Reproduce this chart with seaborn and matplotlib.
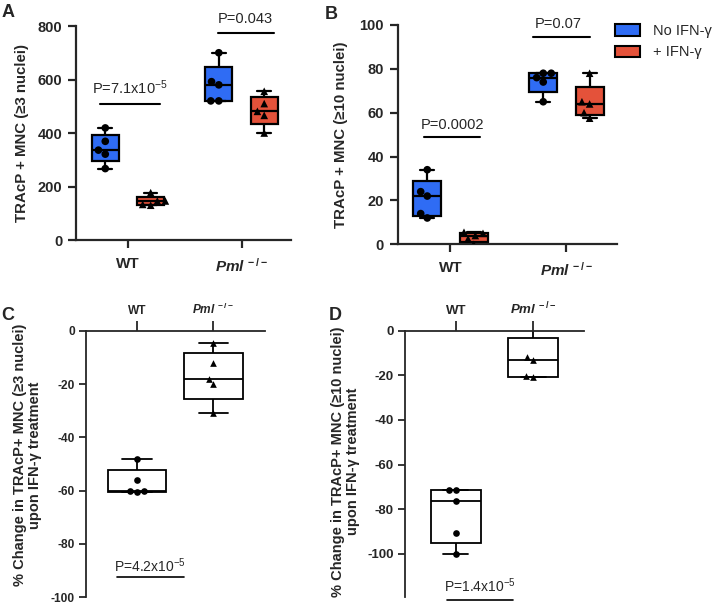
import numpy as np
import pandas as pd
import matplotlib
matplotlib.use("Agg")
import matplotlib as mpl
import matplotlib.pyplot as plt
import seaborn as sns
from matplotlib.patches import Patch

# ---------------- data ----------------
genotypes = ["WT", "Pml-/-"]
treatments = ["No IFN-γ", "+ IFN-γ"]
geno_labels = ["WT", r"$\mathit{Pml}^{\,-/-}$"]

# Panel A: TRAcP+ MNC (>=3 nuclei)
a_wt_no = [267, 321, 336, 369, 419]
a_wt_ifn = [130, 133, 146, 146, 177]
a_pml_no = [520, 520, 580, 592, 700]
a_pml_ifn = [400, 466, 481, 510, 556]
a_yticks = [0, 200, 400, 600, 800]

# Panel B: TRAcP+ MNC (>=10 nuclei)
b_wt_no = [12, 14, 22, 24, 34]
b_wt_ifn = [0, 2.5, 4, 5, 5.5]
b_pml_no = [65, 74, 76, 78, 78]
b_pml_ifn = [57.5, 60, 64, 65, 78]
b_yticks = [0, 20, 40, 60, 80, 100]

# Panel C: % change (>=3 nuclei)
c_wt = [-60.5, -60.3, -60, -56, -48.2]
c_pml = [-31, -20, -18, -12, -4.5]
c_yticks = [0, -20, -40, -60, -80, -100]

# Panel D: % change (>=10 nuclei)
d_wt = [-100, -90.5, -76.3, -71.5, -71.5]
d_pml = [-20.8, -20.3, -13, -11.6, 4.8]
d_yticks = [0, -20, -40, -60, -80, -100]

p_a = ["P=7.1x10$^{-5}$", "P=0.043"]
p_b = ["P=0.0002", "P=0.07"]
p_c = "P=4.2x10$^{-5}$"
p_d = "P=1.4x10$^{-5}$"

blue = "#2f6cf4"
red = "#e4523a"

# ---------------- GraphPad-style quartiles ----------------
_orig_stats = mpl.cbook.boxplot_stats
def _prism_stats(X, *args, **kwargs):
    out = _orig_stats(X, *args, **kwargs)
    if isinstance(X, (list, tuple)):
        series = [np.asarray(x, dtype=float) for x in X]
    else:
        arr = np.asarray(X, dtype=float)
        series = [arr] if arr.ndim == 1 else [arr[:, i] for i in range(arr.shape[1])]
    for s, x in zip(out, series):
        x = x[np.isfinite(x)]
        if len(x) > 0:
            q1, q3 = np.percentile(x, [25, 75], method="weibull")
            s["q1"], s["q3"] = q1, q3
            s["iqr"] = q3 - q1
    return out
mpl.cbook.boxplot_stats = _prism_stats

# ---------------- style ----------------
sns.set_style("ticks")
plt.rcParams["font.family"] = ["Liberation Sans", "DejaVu Sans"]
plt.rcParams["mathtext.fontset"] = "custom"
plt.rcParams["mathtext.it"] = "Liberation Sans:italic:bold"
plt.rcParams["mathtext.rm"] = "Liberation Sans"
plt.rcParams["mathtext.bf"] = "Liberation Sans:bold"
plt.rcParams["mathtext.default"] = "regular"
plt.rcParams["axes.unicode_minus"] = False

def long_df(groups):
    rows = []
    for (g, t), vals in groups.items():
        for v in vals:
            rows.append({"genotype": g, "treatment": t, "value": v})
    return pd.DataFrame(rows)

dfA = long_df({(genotypes[0], treatments[0]): a_wt_no, (genotypes[0], treatments[1]): a_wt_ifn,
               (genotypes[1], treatments[0]): a_pml_no, (genotypes[1], treatments[1]): a_pml_ifn})
dfB = long_df({(genotypes[0], treatments[0]): b_wt_no, (genotypes[0], treatments[1]): b_wt_ifn,
               (genotypes[1], treatments[0]): b_pml_no, (genotypes[1], treatments[1]): b_pml_ifn})
dfC = long_df({(genotypes[0], "chg"): c_wt, (genotypes[1], "chg"): c_pml})
dfD = long_df({(genotypes[0], "chg"): d_wt, (genotypes[1], "chg"): d_pml})

fig = plt.figure(figsize=(7.18, 6.05), dpi=100)
axA = fig.add_axes([0.1063, 0.6033, 0.2990, 0.3537])
axB = fig.add_axes([0.5539, 0.5962, 0.3054, 0.3625])
axC = fig.add_axes([0.1198, 0.0132, 0.2493, 0.4397])
axD = fig.add_axes([0.5641, 0.0127, 0.2493, 0.4407])

pal = {treatments[0]: blue, treatments[1]: red}
markers = {treatments[0]: "o", treatments[1]: "^"}

def grouped_panel(ax, df, yticks, ylim, ylabel, pvals, sig, label_x):
    sns.boxplot(data=df, x="genotype", y="value", hue="treatment", order=genotypes,
                hue_order=treatments, palette=pal, saturation=1, whis=(0, 100),
                showfliers=False, width=0.8, gap=0.4, linewidth=1.6, linecolor="black",
                legend=False, ax=ax)
    for t in treatments:
        sub = df[df["treatment"] == t]
        sns.swarmplot(data=sub, x="genotype", y="value", hue="treatment", order=genotypes,
                      hue_order=treatments, palette={k: "black" for k in treatments},
                      dodge=True, marker=markers[t], size=5.5, legend=False, ax=ax, zorder=5)
    ax.set_ylim(*ylim)
    ax.set_xlim(-0.455, 1.436)
    ax.set_yticks(yticks)
    ax.set_xticks([0, 1], labels=geno_labels)
    ax.set_xlabel("")
    ax.set_ylabel(ylabel, fontsize=10.8, fontweight="bold")
    ax.yaxis.set_label_coords(label_x, 0.5)
    sns.despine(ax=ax)
    for s in ["left", "bottom"]:
        ax.spines[s].set_linewidth(1.6)
    ax.tick_params(axis="both", width=1.6, length=6)
    ax.tick_params(axis="y", labelsize=10.5, pad=4)
    ax.tick_params(axis="x", labelsize=11, pad=6)
    for lab in ax.get_yticklabels() + ax.get_xticklabels():
        lab.set_fontweight("bold")
    for (x0, x1, y, tx, ty), txt in zip(sig, pvals):
        ax.plot([x0, x1], [y, y], color="black", lw=1.5, clip_on=False)
        ax.text(tx, ty, txt, ha="center", va="baseline", fontsize=10.5, clip_on=False)

grouped_panel(axA, dfA, a_yticks, (0, 800), "TRAcP + MNC (≥3 nuclei)", p_a,
              [(-0.25, 0.28, 507, 0.02, 545), (0.79, 1.29, 775, 1.036, 810)], -0.22)
grouped_panel(axB, dfB, b_yticks, (0, 100), "TRAcP + MNC (≥10 nuclei)", p_b,
              [(-0.23, 0.256, 48.8, 0.02, 52.7), (0.71, 1.20, 94.4, 0.93, 98.5)], -0.227)

handles = [Patch(facecolor=blue, edgecolor="black", linewidth=1.5, label=treatments[0]),
           Patch(facecolor=red, edgecolor="black", linewidth=1.5, label=treatments[1])]
fig.legend(handles=handles, loc="upper left", bbox_to_anchor=(615 / 718, 1 - 24 / 605),
           frameon=False, fontsize=10.5, handlelength=1.7, handleheight=0.8,
           handletextpad=0.9, labelspacing=0.5, borderpad=0, borderaxespad=0)

geno_markers = {genotypes[0]: "o", genotypes[1]: "^"}

def change_panel(ax, df, yticks, ylim, xlim, width, ylabel, label_x, label_y, ptxt, sig, fs):
    sns.boxplot(data=df, x="genotype", y="value", order=genotypes, color="white",
                saturation=1, whis=(0, 100), showfliers=False, width=width,
                linewidth=1.3, linecolor="black", ax=ax)
    for g in genotypes:
        sub = df[df["genotype"] == g]
        sns.swarmplot(data=sub, x="genotype", y="value", order=genotypes, color="black",
                      marker=geno_markers[g], size=4.8, ax=ax, zorder=5)
    ax.set_ylim(*ylim)
    ax.set_xlim(*xlim)
    ax.set_yticks(yticks)
    ax.set_xticks([0, 1], labels=geno_labels)
    ax.xaxis.tick_top()
    ax.set_xlabel("")
    ax.spines["right"].set_visible(False)
    ax.spines["bottom"].set_visible(False)
    ax.spines["top"].set_visible(True)
    for s in ["left", "top"]:
        ax.spines[s].set_linewidth(1.3)
    ax.tick_params(axis="both", width=1.3)
    ax.tick_params(axis="y", labelsize=fs, length=5, pad=3)
    ax.tick_params(axis="x", labelsize=fs, length=7, pad=3, top=True, bottom=False,
                   labeltop=True, labelbottom=False)
    for lab in ax.get_yticklabels() + ax.get_xticklabels():
        lab.set_fontweight("bold")
    ax.set_ylabel(ylabel, fontsize=10.5, fontweight="bold", multialignment="center",
                  linespacing=1.1)
    ax.yaxis.set_label_coords(label_x, label_y)
    x0, x1, y, tx, ty = sig
    ax.plot([x0, x1], [y, y], color="black", lw=1.2, clip_on=False)
    ax.text(tx, ty, ptxt, ha="center", va="baseline", fontsize=10, clip_on=False)

change_panel(axC, dfC, c_yticks, (-100, 0), (-0.67, 1.68), 0.77,
             "% Change in TRAcP+ MNC (≥3 nuclei)\nupon IFN-γ treatment", -0.246, 0.534,
             p_c, (-0.26, 0.61, -92.6, 0.17, -90.6), 8.6)
change_panel(axD, dfD, d_yticks, (-119.5, 0), (-0.66, 1.66), 0.65,
             "% Change in TRAcP+ MNC (≥10 nuclei)\nupon IFN-γ treatment", -0.251, 0.51,
             p_d, (-0.12, 0.74, -120.6, 0.31, -117), 9.5)

for txt, x, y in [("A", 2, 17), ("B", 325, 19), ("C", 1, 320), ("D", 329, 320)]:
    fig.text(x / 718, 1 - y / 605, txt, fontsize=13, fontweight="bold", ha="left",
             va="baseline")

fig.savefig("out.png", dpi=100)
